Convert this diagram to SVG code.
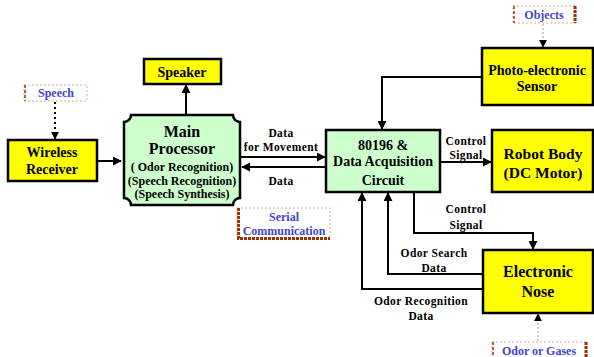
<svg xmlns="http://www.w3.org/2000/svg" width="594" height="357" viewBox="0 0 594 357">
<style>
.box{fill:#FFFF00;stroke:#000;stroke-width:2.5}
.gbox{fill:#CCFFCC;stroke:#000;stroke-width:2.5}
.t{font-family:"Liberation Serif","Times New Roman",serif;font-weight:bold;fill:#000;text-anchor:middle}
.big{font-size:15.5px}
.mid{font-size:14px}
.sm{font-size:12px}
.lbl{font-size:11.5px;letter-spacing:0.4px}
.blue{font-family:"Liberation Serif","Times New Roman",serif;font-weight:bold;fill:#4444CC;text-anchor:middle;font-size:12px}
.lb{fill:#fff;stroke:#D8A890;stroke-width:1;stroke-dasharray:2 2}
.dr{stroke:#993300;stroke-width:3;stroke-dasharray:3 1;fill:none}
.dr2{stroke:#993300;stroke-width:1.5;stroke-dasharray:3 2;fill:none}
.c{fill:none;stroke:#000;stroke-width:2}
</style>
<defs>
<marker id="ah" viewBox="0 0 10 10" refX="9" refY="5" markerWidth="4.5" markerHeight="4.5" orient="auto" markerUnits="strokeWidth">
<path d="M0,0 L10,5 L0,10 z" fill="#000"/>
</marker>
<marker id="ah2" viewBox="0 0 10 10" refX="9" refY="5" markerWidth="8" markerHeight="8" orient="auto" markerUnits="userSpaceOnUse">
<path d="M0,0 L10,5 L0,10 z" fill="#000"/>
</marker>
</defs>

<g id="connectors">
<path class="c" d="M97,161 H121" marker-end="url(#ah)"/>
<path class="c" d="M186,115 V85" marker-end="url(#ah)"/>
<path class="c" d="M241,157 H325" marker-end="url(#ah)"/>
<path class="c" d="M326,167 H242" marker-end="url(#ah)"/>
<path class="c" d="M482,77 H382 V129" marker-end="url(#ah)"/>
<path class="c" d="M440,162 H491" marker-end="url(#ah)"/>
<path class="c" d="M414,192 V233 H533 V249" marker-end="url(#ah)"/>
<path class="c" d="M483,274 H388 V193" marker-end="url(#ah)"/>
<path class="c" d="M483,289 H362 V193" marker-end="url(#ah)"/>
<path d="M55,102 V139" stroke="#000" stroke-width="2" stroke-dasharray="2 3" fill="none" marker-end="url(#ah2)"/>
<path d="M543,24 V47" stroke="#999" stroke-width="1" stroke-dasharray="2 2" fill="none" marker-end="url(#ah2)"/>
<path d="M538,341 V314" stroke="#999" stroke-width="1" stroke-dasharray="2 2" fill="none" marker-end="url(#ah2)"/>
<text class="t lbl" x="281" y="137">Data</text>
<text class="t lbl" x="281" y="151">for Movement</text>
<text class="t lbl" x="281" y="185">Data</text>
<text class="t lbl" x="466" y="145">Control</text>
<text class="t lbl" x="466" y="159">Signal</text>
<text class="t lbl" x="466" y="213">Control</text>
<text class="t lbl" x="466" y="229">Signal</text>
<text class="t lbl" x="434" y="257">Odor Search</text>
<text class="t lbl" x="434" y="272">Data</text>
<text class="t lbl" x="421" y="305">Odor Recognition</text>
<text class="t lbl" x="421" y="320">Data</text>
</g>

<g id="speech">
<rect class="lb" x="24" y="85" width="63" height="16"/>
<path class="dr2" d="M25,85 V101"/>
<text class="blue" x="56" y="97">Speech</text>
</g>

<g id="wireless-receiver">
<rect class="box" x="8" y="140" width="89" height="41"/>
<text class="t mid" x="52" y="157">Wireless</text>
<text class="t mid" x="52" y="174">Receiver</text>
</g>

<g id="speaker">
<rect class="box" x="144" y="59" width="77" height="25"/>
<text class="t mid" x="182" y="77">Speaker</text>
</g>

<g id="main-processor">
<path class="gbox" d="M131,115 H233 A7,7 0 0 0 240,122 V198 A7,7 0 0 0 233,205 H131 A7,7 0 0 0 124,198 V122 A7,7 0 0 0 131,115 Z"/>
<text class="t" font-size="16" x="182" y="137">Main</text>
<text class="t" font-size="16" x="182" y="154">Processor</text>
<text class="t sm" x="182" y="171">( Odor Recognition)</text>
<text class="t sm" x="182" y="185">(Speech Recognition)</text>
<text class="t sm" x="182" y="198">(Speech Synthesis)</text>
</g>

<g id="serial-communication">
<rect class="lb" x="237" y="208" width="93" height="31"/>
<path class="dr" d="M238.5,208 V238.5 H330"/>
<text class="blue" x="284" y="221">Serial</text>
<text class="blue" x="284" y="235">Communication</text>
</g>

<g id="data-acquisition">
<rect class="gbox" x="326" y="130" width="114" height="62"/>
<text class="t mid" x="383" y="150">80196 &amp;</text>
<text class="t mid" x="383" y="166">Data Acquisition</text>
<text class="t mid" x="383" y="185">Circuit</text>
</g>

<g id="objects">
<rect class="lb" x="513" y="6" width="63" height="17"/>
<path class="dr2" d="M514,6 V23"/>
<path class="dr" d="M575,6 V23"/>
<text class="blue" x="544" y="19">Objects</text>
</g>

<g id="photo-sensor">
<rect class="box" x="482" y="48" width="111" height="57"/>
<text class="t mid" x="537" y="75">Photo-electronic</text>
<text class="t mid" x="537" y="91">Sensor</text>
</g>

<g id="robot-body">
<rect class="box" x="492" y="130" width="101" height="62"/>
<text class="t big" x="543" y="159">Robot Body</text>
<text class="t big" x="543" y="178">(DC Motor)</text>
</g>

<g id="electronic-nose">
<rect class="box" x="483" y="250" width="110" height="63"/>
<text class="t" font-size="16" x="538" y="277">Electronic</text>
<text class="t" font-size="16" x="538" y="297">Nose</text>
</g>

<g id="odor-gases">
<rect class="lb" x="492" y="342" width="95" height="18"/>
<path class="dr2" d="M493,342 V357"/>
<path class="dr" d="M586,342 V357"/>
<text class="blue" font-size="12.5" x="539" y="355">Odor or Gases</text>
</g>
</svg>
